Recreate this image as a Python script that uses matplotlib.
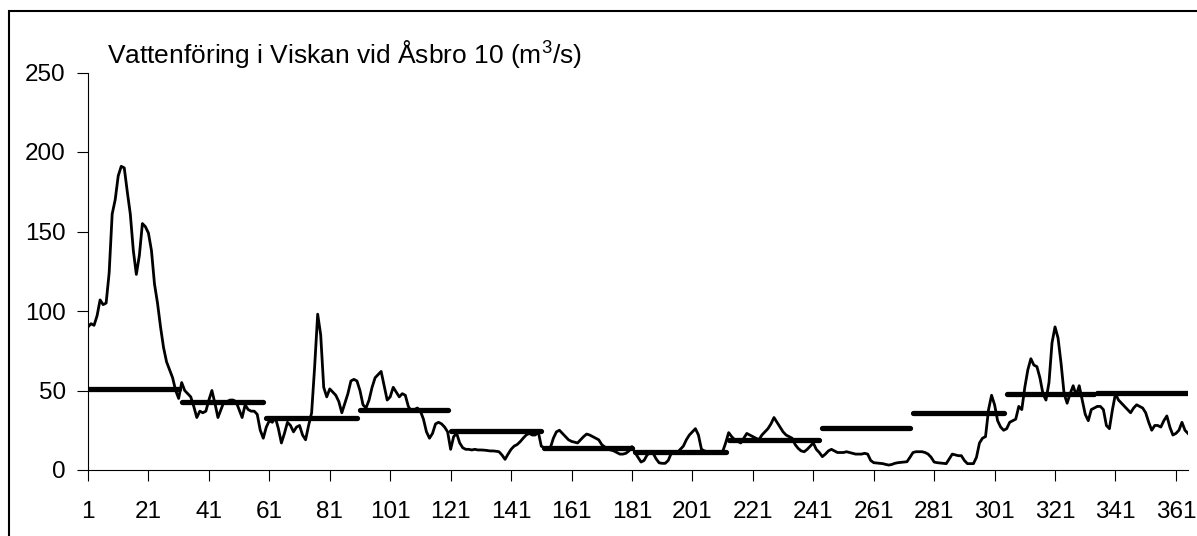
import matplotlib.pyplot as plt
from matplotlib.patches import Rectangle

plt.rcParams['font.family'] = ['Liberation Sans', 'DejaVu Sans']
plt.rcParams['mathtext.fontset'] = 'custom'
plt.rcParams['mathtext.rm'] = 'Liberation Sans'
plt.rcParams['mathtext.it'] = 'Liberation Sans'

# daily flow (m3/s), day 1..365
flow = [
    90, 92, 91, 97, 107, 104, 105, 124, 161, 170,
    185, 191, 190, 175, 161, 138, 123, 135, 155, 153,
    149, 138, 117, 105, 90, 77, 68, 63, 58, 50,
    45, 55, 50, 48, 46, 40, 33, 37, 36, 37,
    44, 50, 42, 33, 38, 43, 43, 44, 44, 43,
    38, 33, 41, 38, 37, 37, 35, 25, 20, 27,
    31, 30, 33, 26, 17, 23, 30, 28, 24, 27,
    28, 22, 19, 28, 36, 65, 98, 85, 52, 46,
    51, 49, 47, 43, 36, 42, 48, 56, 57, 56,
    50, 41, 39, 44, 52, 58, 60, 62, 53, 44,
    46, 52, 49, 46, 48, 47, 40, 37, 38, 39,
    37, 32, 24, 20, 23, 29, 30, 29, 27, 24,
    13, 21, 23, 17, 14, 13, 13, 12.6, 13, 12.6,
    12.6, 12.5, 12.3, 12, 12, 11.8, 11.5, 9.4, 6.7, 10,
    13, 15, 16, 17.8, 20, 22, 23, 22, 22, 24,
    15, 14, 13, 14, 20, 24, 25, 23, 21, 19,
    18, 17.5, 17, 19, 21, 22.6, 22, 21, 20, 19,
    16, 14.5, 13, 12.6, 12, 11, 10, 10, 10.5, 12,
    14.7, 11, 8, 5, 6, 9.4, 11, 10.5, 7, 4.5,
    4.2, 4.2, 6, 10.5, 11, 11, 13, 15, 19, 22,
    24, 26, 22, 13, 12, 11.5, 11.5, 11.5, 11.5, 11.5,
    11.5, 17, 23.5, 21, 19, 18, 17, 20, 23, 22,
    21, 20, 19, 22, 24, 26, 29, 33, 30, 27,
    24, 22, 21, 20, 16, 13.6, 12, 11.5, 13, 15,
    17, 13, 11, 8.4, 10, 12, 13, 12, 11, 11,
    11, 11.5, 11, 10.5, 10, 10, 10, 10.5, 10, 6,
    4.6, 4.4, 4.2, 4, 3.5, 3.1, 3.5, 4.2, 4.6, 4.8,
    5, 5.2, 8, 11, 11.5, 11.5, 11.5, 11, 10, 8,
    5, 4.6, 4.4, 4.2, 4, 7, 10, 9.5, 9, 9,
    6, 4, 4, 4, 8, 17, 20, 21, 38, 47,
    41, 31, 27, 25, 26, 30, 31, 32, 40, 38,
    52, 63, 70, 66, 65, 58, 48, 44, 55, 80,
    90, 83, 67, 48, 42, 48, 53, 47, 53, 44,
    35, 31, 38, 39, 40, 40, 38, 28, 26, 38,
    48, 44, 42, 40, 38, 36, 39, 41, 40, 39,
    36, 30, 25, 28, 28, 27, 31, 34, 27, 22,
    23, 25, 30, 25, 23,
]

month_days = [31, 28, 31, 30, 31, 30, 31, 31, 30, 31, 30, 31]
month_mean = [51, 43, 32.5, 37.5, 24.7, 13.6, 11.5, 18.7, 26.4, 35.7, 47.6, 48.6]

x_ticks = list(range(1, 366, 20))
y_ticks = [0, 50, 100, 150, 200, 250]

days = list(range(1, len(flow) + 1))

fig = plt.figure(figsize=(11.97, 5.36), dpi=100)
ax = fig.add_axes([88 / 1197, 66 / 536, 1100 / 1197, 397.5 / 536])

ax.plot(days, flow, color='black', lw=2.0)

start = 1
for n, m in zip(month_days, month_mean):
    ax.plot([start, start + n - 1], [m, m], color='black', lw=3.8,
            solid_capstyle='round')
    start += n

ax.set_xlim(1, 365)
ax.set_ylim(0, 250)
ax.set_xticks(x_ticks)
ax.set_yticks(y_ticks)
ax.tick_params(labelsize=17.5, length=8, width=0.8, direction='out')
ax.tick_params(axis='x', pad=14)
ax.tick_params(axis='y', pad=8)
for s in ['top', 'right']:
    ax.spines[s].set_visible(False)
for s in ['left', 'bottom']:
    ax.spines[s].set_linewidth(0.8)

fig.text(107 / 1197, (536 - 63) / 536, r'Vattenföring i Viskan vid Åsbro 10 (m$^3$/s)',
         fontsize=19, va='baseline', ha='left')

# outer chart border
fig.patches.append(Rectangle((9 / 1197, -0.01), 1.02, (536 - 11) / 536 + 0.01,
                             transform=fig.transFigure, fill=False,
                             edgecolor='black', lw=1.5, clip_on=False))

fig.savefig('out.png', dpi=100)
